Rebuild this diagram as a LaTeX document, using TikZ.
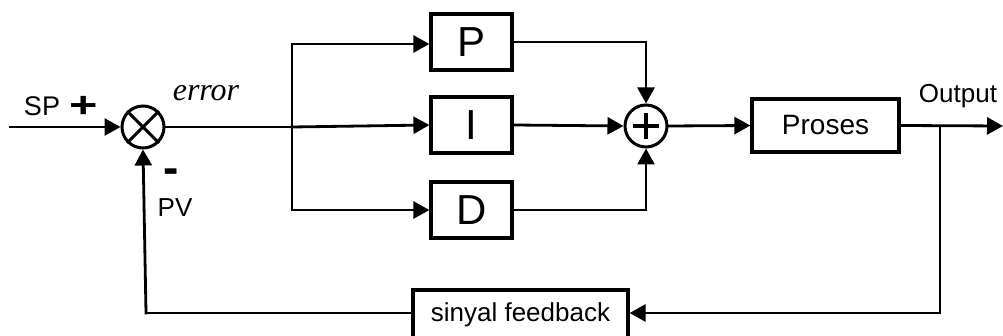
\documentclass[tikz,border=0pt]{standalone}
\usepackage{fontspec}
\setmainfont{Liberation Sans}
\newfontfamily\errfont{Liberation Serif}
\usetikzlibrary{arrows.meta}
\begin{document}
\begin{tikzpicture}[x=1pt,y=-1pt,
  conn/.style={line width=2.8pt,line cap=rect},
  arr/.style={conn,-{Triangle[length=16pt,width=17pt]}},
  blockbox/.style={draw,line width=3.2pt,inner sep=0pt,fill=white},
  sumnode/.style={draw,circle,line width=3pt,minimum size=42pt,inner sep=0pt},
  lbl/.style={inner sep=0pt,font=\fontsize{26}{28}\selectfont}
]
\useasboundingbox (0,0) rectangle (1003,336);
% summing junctions
\node[sumnode] (s1) at (143,127) {};
\draw[line width=3pt] (s1.north west) -- (s1.south east) (s1.north east) -- (s1.south west);
\node[sumnode] (s2) at (646,126) {};
\draw[line width=4pt] ([xshift=-13pt]s2.center) -- ([xshift=13pt]s2.center)
  ([yshift=-13pt]s2.center) -- ([yshift=13pt]s2.center);
% blocks
\node[blockbox,minimum width=81pt,minimum height=56pt,font=\fontsize{42}{44}\selectfont] (P) at (471.5,42) {P};
\node[blockbox,minimum width=81pt,minimum height=56pt,font=\fontsize{42}{44}\selectfont] (I) at (471.5,125) {I};
\node[blockbox,minimum width=81pt,minimum height=56pt,font=\fontsize{42}{44}\selectfont] (D) at (471.5,210) {D};
\node[blockbox,minimum width=147pt,minimum height=53pt,font=\fontsize{28}{30}\selectfont] (proc) at (825.5,125.5) {Proses};
\node[blockbox,minimum width=215pt,minimum height=50pt,font=\fontsize{26}{28}\selectfont] (fb) at (520.5,315) {sinyal feedback};
% coordinates
\coordinate (spin) at (10,127);
\coordinate (br) at (292,127);
\coordinate (brtop) at (292,44);
\coordinate (brbot) at (292,210);
\coordinate (out) at (1003,126);
\coordinate (tap) at (940,126);
\coordinate (tapbot) at (940,313);
\coordinate (pvbot) at (146,313);
% connectors
\draw[arr] (spin) -- (s1.west);
\draw[conn] (s1.east) -- (br);
\draw[arr] (br) -- (I.west);
\draw[conn] (brtop) -- (brbot);
\draw[arr] (brtop) -- (P.west |- brtop);
\draw[arr] (brbot) -- (D.west);
\draw[arr] (P.east) -| (s2.north);
\draw[arr] (D.east) -| (s2.south);
\draw[arr] (I.east) -- (s2.west);
\draw[arr] (s2.east) -- (proc.west);
\draw[arr] (proc.east) -- (out);
\draw[conn] (tap) -- (tapbot);
\draw[arr] (tapbot) -- (fb.east |- tapbot);
\draw[conn] (fb.west |- pvbot) -- (pvbot);
\draw[arr] (pvbot) -- (s1.south);
% labels
\node[lbl,font=\fontsize{27}{29}\selectfont] (sp) at (42,106) {SP};
\node[lbl,font=\fontsize{36}{38}\selectfont\bfseries] (plus) at (84,107) {\scalebox{1.35}[1]{+}};
\node[lbl,font=\fontsize{32}{34}\selectfont\errfont\itshape] (err) at (206,93) {error};
\node[lbl,font=\fontsize{46}{48}\selectfont\bfseries] (minus) at (171,176) {-};
\node[lbl] (pv) at (175,208) {PV};
\node[lbl] (outlbl) at (958,96) {Output};
\end{tikzpicture}
\end{document}
